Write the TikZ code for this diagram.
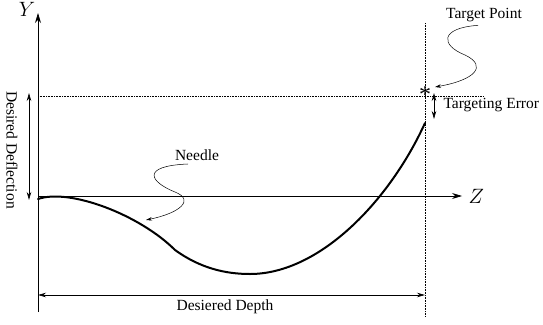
\documentclass[tikz,border=0pt]{standalone}
\usepackage{fontspec}
\setmainfont{Liberation Serif}
\usetikzlibrary{arrows.meta}

\begin{document}
\begin{tikzpicture}[x=1pt, y=-1pt, font=\fontsize{15.5}{18}\selectfont,
    axis/.style={-{Stealth[length=10pt,width=6pt]}, line width=0.8pt},
    dim/.style={{Stealth[length=8pt,width=4.5pt]}-{Stealth[length=8pt,width=4.5pt]}, line width=0.7pt},
    guide/.style={densely dotted, line width=0.6pt},
    pointer/.style={-{Stealth[length=6pt,width=3.5pt]}, line width=0.5pt},
    needle/.style={line width=2pt, line cap=round}]
\useasboundingbox (0,0) rectangle (543,324);

% axes
\coordinate (yb) at (38,312);
\coordinate (yt) at (38,13);
\coordinate (zl) at (38,196);
\coordinate (zr) at (462,196);
\draw[axis] (yb) -- (yt);
\draw[axis] (zl) -- (zr);
\node (ylab) at (27,9) {\fontsize{22}{24}\selectfont$Y$};
\node[anchor=west] (zlab) at (465,196) {\fontsize{22}{24}\selectfont$Z$};

% target lines
\coordinate (hl) at (38,96);
\coordinate (hr) at (483,96);
\coordinate (vt) at (425,23);
\coordinate (vb) at (425,317);
\draw[guide] (hl) -- (hr);
\draw[guide] (vt) -- (vb);
\node[inner sep=0pt] (target) at (425,95) {\fontsize{24}{24}\selectfont *};

% needle
\coordinate (n0) at (38,199);
\coordinate (n1) at (175,250);
\coordinate (n2) at (250,274);
\coordinate (n3) at (425,123);
\draw[needle] (n0) .. controls (70,188) and (140,215) .. (n1)
  .. controls (200,268) and (225,274) .. (n2)
  .. controls (320,274) and (390,200) .. (n3);

% dimensions
\coordinate (dt) at (29,93);
\coordinate (db) at (29,200);
\draw[dim] (dt) -- (db);
\node[rotate=-90] (defl) at (12,150) {Desired Deflection};

\coordinate (pl) at (38,295);
\coordinate (pr) at (425,295);
\draw[dim] (pl) -- (pr);
\node (depth) at (225,307) {Desiered Depth};

\coordinate (et) at (434,93);
\coordinate (eb) at (434,119);
\draw[dim] (et) -- (eb);
\node[anchor=west] (err) at (440,105) {Targeting Error};

% labels with pointers
\node (tp) at (484,15) {Target Point};
\coordinate (tpend) at (435,87);
\draw[pointer] ([xshift=-6pt]tp.south) .. controls (440,28) and (440,45) .. (465,55) .. controls (488,66) and (475,80) .. (tpend);

\node (nl) at (197,155) {Needle};
\coordinate (nend) at (146,220);
\draw[pointer] ([xshift=-9pt]nl.south) .. controls (140,166) and (150,182) .. (175,192) .. controls (195,200) and (180,213) .. (nend);
\end{tikzpicture}
\end{document}
